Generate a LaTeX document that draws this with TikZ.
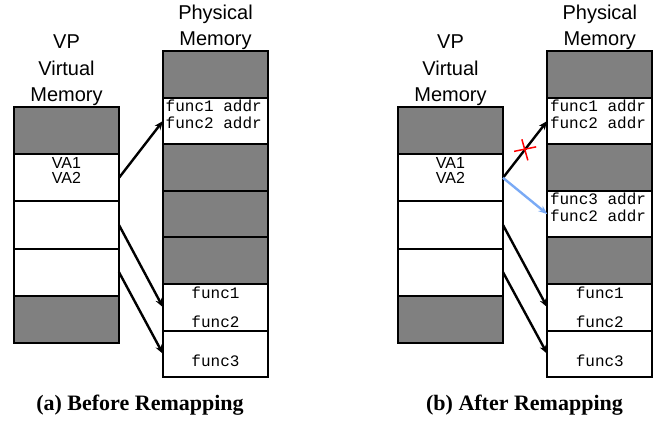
\documentclass[tikz,border=0pt]{standalone}
\usepackage{fontspec}
\setmainfont{Liberation Serif}
\setsansfont{Liberation Sans}
\setmonofont{Liberation Mono}
\usetikzlibrary{arrows.meta,calc}
\definecolor{lblue}{RGB}{122,170,245}
\definecolor{memgray}{RGB}{128,128,128}
\begin{document}
\begin{tikzpicture}[x=1pt,y=-1pt,
  vblk/.style={draw, line width=2pt, minimum width=105pt, minimum height=47.2pt, inner sep=0pt, outer sep=0pt},
  pblk/.style={draw, line width=2pt, minimum width=105pt, minimum height=46.6pt, inner sep=0pt, outer sep=0pt},
  gblk/.style={fill=memgray},
  wblk/.style={fill=white},
  title/.style={font=\sffamily\fontsize{20}{26}\selectfont, align=center, inner sep=0pt, anchor=base},
  mono/.style={font=\ttfamily\fontsize{16}{16.5}\selectfont, inner sep=0pt},
  va/.style={font=\sffamily\fontsize{16}{15}\selectfont, inner sep=0pt, anchor=base},
  arr/.style={line width=2.4pt, -{Stealth[length=9pt,width=7pt]}},
  barr/.style={line width=2.4pt, lblue, -{Stealth[length=9pt,width=7pt]}},
  redx/.style={red, line width=1.5pt},
  capt/.style={font=\rmfamily\bfseries\fontsize{22}{24}\selectfont, inner sep=0pt, anchor=base}
]
\useasboundingbox (0,0) rectangle (655,421);

% ================= Panel (a) =================
\node[title] (lvt1) at (66.5,48.3) {VP};
\node[title] (lvt2) at (66.5,75) {Virtual};
\node[title] (lvt3) at (66.5,101.7) {Memory};
\node[title] (lpt1) at (215.5,19) {Physical};
\node[title] (lpt2) at (215.5,45) {Memory};

\node[vblk,gblk] (lv1) at (66.5,130.6) {};
\node[vblk,wblk] (lv2) at (66.5,177.8) {};
\node[vblk,wblk] (lv3) at (66.5,225.0) {};
\node[vblk,wblk] (lv4) at (66.5,272.2) {};
\node[vblk,gblk] (lv5) at (66.5,319.4) {};
\node[va] (lva1) at (66.5,168.3) {VA1};
\node[va] (lva2) at (66.5,183.3) {VA2};

\node[pblk,gblk] (lp1) at (215.5,74.3) {};
\node[pblk,wblk] (lp2) at (215.5,120.9) {};
\node[pblk,gblk] (lp3) at (215.5,167.5) {};
\node[pblk,gblk] (lp4) at (215.5,214.1) {};
\node[pblk,gblk] (lp5) at (215.5,260.7) {};
\node[pblk,wblk] (lp6) at (215.5,307.3) {};
\node[pblk,wblk] (lp7) at (215.5,353.9) {};
\node[mono,anchor=base west] (lpa1) at (165.5,111.5) {func1 addr};
\node[mono,anchor=base west] (lpa2) at (165.5,128) {func2 addr};
\node[mono,anchor=base] (lpf1) at (215.5,298) {func1};
\node[mono,anchor=base] (lpf2) at (215.5,327.5) {func2};
\node[mono,anchor=base] (lpf3) at (215.5,366.5) {func3};

\draw[arr] (lv2.east) -- (lp2.west);
\draw[arr] (lv3.east) -- (lp6.west);
\draw[arr] (lv4.east) -- (lp7.west);

\node[capt] (capa) at (140,410.5) {(a) Before Remapping};

% ================= Panel (b) =================
\node[title] (rvt1) at (450.5,48.3) {VP};
\node[title] (rvt2) at (450.5,75) {Virtual};
\node[title] (rvt3) at (450.5,101.7) {Memory};
\node[title] (rpt1) at (599.8,19) {Physical};
\node[title] (rpt2) at (599.8,45) {Memory};

\node[vblk,gblk] (rv1) at (450.5,130.6) {};
\node[vblk,wblk] (rv2) at (450.5,177.8) {};
\node[vblk,wblk] (rv3) at (450.5,225.0) {};
\node[vblk,wblk] (rv4) at (450.5,272.2) {};
\node[vblk,gblk] (rv5) at (450.5,319.4) {};
\node[va] (rva1) at (450.5,168.3) {VA1};
\node[va] (rva2) at (450.5,183.3) {VA2};

\node[pblk,gblk] (rp1) at (599.8,74.3) {};
\node[pblk,wblk] (rp2) at (599.8,120.9) {};
\node[pblk,gblk] (rp3) at (599.8,167.5) {};
\node[pblk,wblk] (rp4) at (599.8,214.1) {};
\node[pblk,gblk] (rp5) at (599.8,260.7) {};
\node[pblk,wblk] (rp6) at (599.8,307.3) {};
\node[pblk,wblk] (rp7) at (599.8,353.9) {};
\node[mono,anchor=base west] (rpa1) at (549.8,111.5) {func1 addr};
\node[mono,anchor=base west] (rpa2) at (549.8,128) {func2 addr};
\node[mono,anchor=base west] (rpa3) at (549.8,204.5) {func3 addr};
\node[mono,anchor=base west] (rpa4) at (549.8,221) {func2 addr};
\node[mono,anchor=base] (rpf1) at (599.8,298) {func1};
\node[mono,anchor=base] (rpf2) at (599.8,327.5) {func2};
\node[mono,anchor=base] (rpf3) at (599.8,366.5) {func3};

\draw[arr] (rv2.east) -- (rp2.west);
\draw[barr] (rv2.east) -- (rp4.west);
\draw[arr] (rv3.east) -- (rp6.west);
\draw[arr] (rv4.east) -- (rp7.west);

\coordinate (xc) at ($(rv2.east)!0.5!(rp2.west)$);
\draw[redx] ([shift={(-11,2)}]xc) -- ([shift={(11,-2.5)}]xc);
\draw[redx] ([shift={(-3.3,-10)}]xc) -- ([shift={(2.7,11)}]xc);

\node[capt] (capb) at (524.5,410.5) {(b) After Remapping};
\end{tikzpicture}
\end{document}
